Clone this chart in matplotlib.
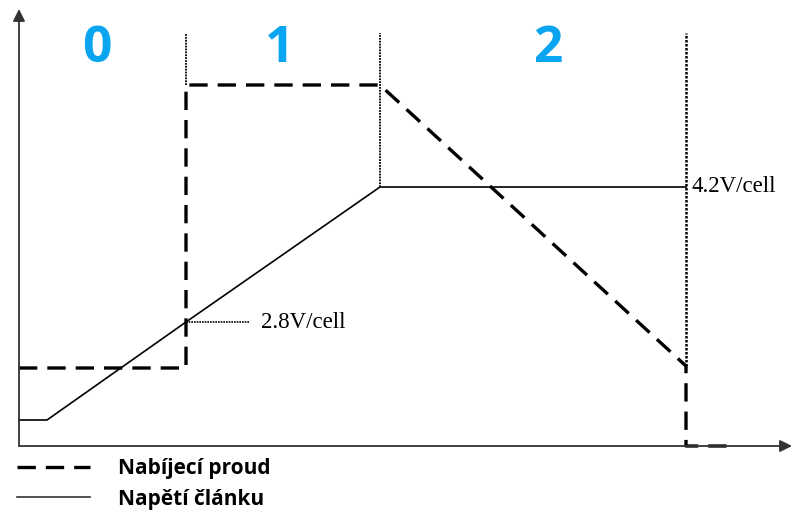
import numpy as np
import matplotlib.pyplot as plt
from matplotlib.lines import Line2D

# time axis in relative units, charge phases 0/1/2
phase_bounds = [167, 361, 667]
phase_names = ['0', '1', '2']
phase_label_t = [78, 261, 529]

# cell voltage (solid)
t_volt = [0, 28, 167, 361, 667]
u_volt = [26, 26, 124, 259, 259]

# charge current (dashed)
t_cur = [0, 167, 167, 361, 667, 667, 714]
i_cur = [78, 78, 361, 361, 80, 0, 0]

v_labels = ['2.8V/cell', '4.2V/cell']
legend_labels = ['Nabíjecí proud', 'Napětí článku']

fig = plt.figure(figsize=(7.93, 5.15), dpi=100)
ax = fig.add_axes([0, 0, 1, 1])
ax.set_xlim(-19, 774)
ax.set_ylim(-69, 446)
ax.axis('off')

# axes with arrows
ax.annotate('', xy=(773, 0), xytext=(0, 0),
            arrowprops=dict(arrowstyle='-|>', color='#333333', lw=1.3, mutation_scale=18,
                            shrinkA=0, shrinkB=0))
ax.annotate('', xy=(0, 437), xytext=(0, 0),
            arrowprops=dict(arrowstyle='-|>', color='#333333', lw=1.3, mutation_scale=18,
                            shrinkA=0, shrinkB=0))

# phase boundaries (dotted)
top = 413
ax.plot([phase_bounds[0]] * 2, [i_cur[2], top], color='black', lw=1.3, ls=(0, (1, 0.6)))
ax.plot([phase_bounds[1]] * 2, [u_volt[3], top], color='black', lw=1.3, ls=(0, (1, 0.6)))
ax.plot([phase_bounds[2]] * 2, [i_cur[4], top], color='black', lw=1.8, ls=(0, (1, 0.6)))

for t, name in zip(phase_label_t, phase_names):
    ax.text(t, 397, name, color='#0aa5f0', fontsize=37, fontweight='bold',
            family='Open Sans', ha='center', va='center')

ax.plot(t_volt, u_volt, color='black', lw=1.2)
ax.plot(t_cur, i_cur, color='black', lw=2.4, ls=(0, (5.5, 3)))

# threshold markers
ax.plot([t_volt[2], t_volt[2] + 64], [u_volt[2], u_volt[2]], color='black', lw=1.2,
        ls=(0, (1, 0.6)))
ax.text(t_volt[2] + 75, u_volt[2], v_labels[0], family='Liberation Serif', fontsize=16.5,
        va='center', ha='left')
ax.text(t_volt[4] + 5, u_volt[4], v_labels[1], family='Liberation Serif', fontsize=16.5,
        va='center', ha='left')

handles = [Line2D([], [], color='black', lw=2.4, ls=(0, (5.5, 3))),
           Line2D([], [], color='#333333', lw=1.2)]
ax.legend(handles, legend_labels, loc='upper left', bbox_to_anchor=(0.021, 0.11),
          frameon=False, handlelength=3.5, handletextpad=1.35, labelspacing=0.45,
          borderpad=0, borderaxespad=0,
          prop=dict(family='Open Sans', weight='bold', size=15))

fig.savefig('out.png', dpi=100)
